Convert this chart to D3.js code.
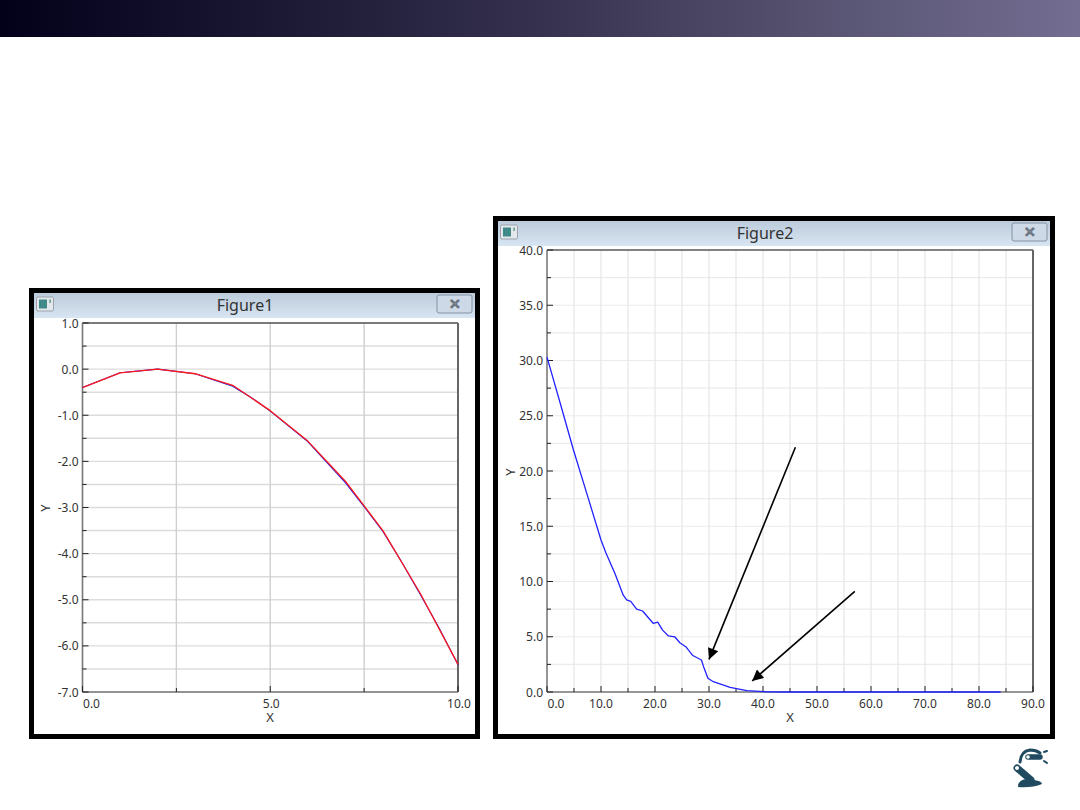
<!DOCTYPE html>
<html><head><meta charset="utf-8">
<script src="https://cdn.jsdelivr.net/npm/d3@7"></script>
<style>html,body{margin:0;padding:0;background:#fff}svg{display:block}text{font-family:"Noto Sans","Open Sans",sans-serif}</style>
</head><body><div id="chart"></div>
<script>
// ---- data ----
const fig1Title = "Figure1";
const fig2Title = "Figure2";
const fig1TrueX = [0,1,2,3,4,4.5,5,6,7,7.5,8,8.5,9,9.5,10];
const fig1TrueY = [-0.4,-0.08,0,-0.1,-0.37,-0.62,-0.91,-1.57,-2.46,-2.98,-3.52,-4.18,-4.89,-5.62,-6.41];
const fig1SampleX = [0,1,2,3,4,5,6,7,8,9,10];
const fig1SampleY = [-0.4,-0.08,0,-0.1,-0.35,-0.9,-1.56,-2.43,-3.5,-4.87,-6.4];
const fig1XTicks = [0,5,10];
const fig1XMinor = [2.5,7.5];
const fig1YTicks = [1,0,-1,-2,-3,-4,-5,-6,-7];
const fig1YMinor = [0.5,-0.5,-1.5,-2.5,-3.5,-4.5,-5.5,-6.5];
const fig2X = [0,2.7,4.9,7.35,10,10.9,12.6,14.1,14.75,15.5,16.6,17.7,19.7,20.5,21.4,22.5,23.7,24.6,25.7,27,28.6,29.1,29.8,30.8,33.9,37,40.7,45,60,84];
const fig2Y = [30.3,25.7,21.9,18,13.75,12.6,10.7,8.78,8.33,8.2,7.5,7.33,6.2,6.33,5.6,5.07,4.98,4.46,4.1,3.3,2.9,2.14,1.24,0.93,0.42,0.12,0.02,0,0,0];
const fig2XTicks = [0,10,20,30,40,50,60,70,80,90];
const fig2XMinor = [5,15,25,35,45,55,65,75,85];
const fig2YTicks = [40,35,30,25,20,15,10,5,0];
const fig2YMinor = [37.5,32.5,27.5,22.5,17.5,12.5,7.5,2.5];
const arrowFromX = [46,57];
const arrowFromY = [22.15,9.1];
const arrowToX = [30,38];
const arrowToY = [2.95,1.0];

const svg = d3.select("#chart").append("svg").attr("width",1080).attr("height",810);
const defs = svg.append("defs");

// banner
const bg = defs.append("linearGradient").attr("id","banner");
[[0,"#03001a"],[0.25,"#1a1833"],[0.5,"#35314f"],[0.75,"#565270"],[1,"#736e92"]].forEach(s=>bg.append("stop").attr("offset",s[0]).attr("stop-color",s[1]));
svg.append("rect").attr("width",1080).attr("height",37).attr("fill","url(#banner)");

const tg = defs.append("linearGradient").attr("id","titlebar").attr("x1",0).attr("y1",0).attr("x2",0).attr("y2",1);
tg.append("stop").attr("offset",0).attr("stop-color","#bccbdb");
tg.append("stop").attr("offset",1).attr("stop-color","#d8e5f2");

const mk = defs.append("marker").attr("id","ah").attr("viewBox","0 0 10 10").attr("refX",10).attr("refY",5)
  .attr("markerUnits","userSpaceOnUse").attr("markerWidth",14).attr("markerHeight",11).attr("orient","auto");
mk.append("path").attr("d","M0,0L10,5L0,10Z").attr("fill","#000");

function figure(o){
  const g = svg.append("g");
  const [fx,fy,fw,fh] = o.frame;
  g.append("rect").attr("x",fx).attr("y",fy).attr("width",fw).attr("height",fh).attr("fill","#000");
  g.append("rect").attr("x",fx+5).attr("y",fy+5).attr("width",fw-10).attr("height",fh-10).attr("fill","#fff");
  g.append("rect").attr("x",fx+5).attr("y",fy+5).attr("width",fw-10).attr("height",25).attr("fill","url(#titlebar)");
  // window icon
  g.append("rect").attr("x",fx+7.5).attr("y",fy+9).attr("width",17).attr("height",14).attr("rx",1.5).attr("fill","#e4e8ec").attr("stroke","#9aa3ad");
  g.append("rect").attr("x",fx+10).attr("y",fy+11.5).attr("width",8).attr("height",9).attr("fill","#3f8a88");
  g.append("rect").attr("x",fx+20.5).attr("y",fy+11.5).attr("width",1.2).attr("height",3.5).attr("fill","#3a8a6a");
  // close button
  const bx = fx+fw-43, by = fy+7;
  g.append("rect").attr("x",bx).attr("y",by).attr("width",35).attr("height",18).attr("rx",2).attr("fill","#cdd9e6").attr("stroke","#8492a3");
  g.append("text").attr("x",bx+17.5).attr("y",by+13.5).attr("text-anchor","middle").attr("font-size",14).attr("font-weight",700)
    .attr("fill","#fff").attr("stroke","#6b7480").attr("stroke-width",0.7).text("\u2715");
  g.append("text").attr("x",o.titleX).attr("y",fy+23).attr("text-anchor","middle").attr("font-size",16).attr("fill","#333").text(o.title);

  const x = d3.scaleLinear().domain(o.xDomain).range(o.xRange);
  const y = d3.scaleLinear().domain(o.yDomain).range(o.yRange);
  const [x0,x1] = o.xRange, [y0,y1] = o.yRange;

  // grid
  const grid = g.append("g").attr("stroke",o.gridColor).attr("stroke-width",o.gridWidth);
  grid.selectAll(".h").data(o.yTicks.concat(o.yMinor)).join("line").attr("x1",x0).attr("x2",x1).attr("y1",d=>y(d)).attr("y2",d=>y(d));
  grid.selectAll(".v").data(o.xTicks.concat(o.xMinor)).join("line").attr("y1",y0).attr("y2",y1).attr("x1",d=>x(d)).attr("x2",d=>x(d)).attr("stroke",o.gridColorV);

  // frame
  g.append("path").attr("d",`M${x0},${y1}H${x1}`).attr("stroke","#111").attr("stroke-width",1.2).attr("fill","none");
  g.append("path").attr("d",`M${x1},${y1}V${y0}`).attr("stroke","#666").attr("stroke-width",2).attr("fill","none");
  g.append("path").attr("d",`M${x0},${y1}V${y0}`).attr("stroke","#777").attr("stroke-width",1.5).attr("fill","none");
  g.append("path").attr("d",`M${x0},${y0}H${x1}`).attr("stroke","#777").attr("stroke-width",1.5).attr("fill","none");

  // ticks
  const t = g.append("g").attr("stroke","#222").attr("stroke-width",1);
  t.selectAll(".a").data(o.yTicks).join("line").attr("x1",x0).attr("x2",x0+6).attr("y1",d=>y(d)).attr("y2",d=>y(d));
  t.selectAll(".b").data(o.yMinor).join("line").attr("x1",x0).attr("x2",x0+4).attr("y1",d=>y(d)).attr("y2",d=>y(d));
  t.selectAll(".c").data(o.xTicks).join("line").attr("y1",y0).attr("y2",y0-6).attr("x1",d=>x(d)).attr("x2",d=>x(d));
  t.selectAll(".d").data(o.xMinor).join("line").attr("y1",y0).attr("y2",y0-4).attr("x1",d=>x(d)).attr("x2",d=>x(d));

  // tick labels (plain hyphen for negatives, as in the reference)
  const fmt = v => d3.format(".1f")(v).replace("\u2212","-");
  g.selectAll(".yl").data(o.yTicks).join("text").attr("x",x0-4).attr("y",d=>y(d)+4.5)
    .attr("text-anchor","end").attr("font-size",12).attr("fill","#333").text(d=>fmt(d));
  g.selectAll(".xl").data(o.xTicks).join("text").attr("x",(d,i)=>x(d)+(i===0?o.firstXOffset:o.xOffset)).attr("y",y0+15.5)
    .attr("text-anchor","middle").attr("font-size",12).attr("fill","#333").text(d=>fmt(d));
  // axis titles
  g.append("text").attr("x",o.xLabel[0]).attr("y",o.xLabel[1]).attr("text-anchor","middle").attr("font-size",13).attr("fill","#333").text("X");
  g.append("text").attr("transform",`translate(${o.yLabel[0]},${o.yLabel[1]}) rotate(-90)`).attr("text-anchor","middle").attr("font-size",13).attr("fill","#333").text("Y");

  const line = d3.line().x(d=>x(d[0])).y(d=>y(d[1]));
  o.series.forEach(s=>{
    g.append("path").datum(d3.zip(s.x,s.y)).attr("d",line).attr("fill","none").attr("stroke",s.color).attr("stroke-width",s.width).attr("stroke-linejoin","round");
  });
  return {x,y};
}

figure({frame:[29,288,451,451],title:fig1Title,titleX:245,
  xDomain:[0,10],xRange:[82.5,458],yDomain:[-7,1],yRange:[692,323],
  xTicks:fig1XTicks,xMinor:fig1XMinor,yTicks:fig1YTicks,yMinor:fig1YMinor,
  gridColor:"#dcdcdc",gridColorV:"#cfcfcf",gridWidth:1.4,firstXOffset:9,xOffset:1,
  xLabel:[270,722],yLabel:[50,508],
  series:[{x:fig1TrueX,y:fig1TrueY,color:"#1a1aee",width:1.1},{x:fig1SampleX,y:fig1SampleY,color:"#ff1a1a",width:1.3}]});

const f2 = figure({frame:[493,216,562,523],title:fig2Title,titleX:765,
  xDomain:[0,90],xRange:[547,1033],yDomain:[0,40],yRange:[692,250],
  xTicks:fig2XTicks,xMinor:fig2XMinor,yTicks:fig2YTicks,yMinor:fig2YMinor,
  gridColor:"#ebebeb",gridColorV:"#e6e6e6",gridWidth:1.2,firstXOffset:9,xOffset:0,
  xLabel:[790,722],yLabel:[515,472],
  series:[{x:fig2X,y:fig2Y,color:"#2222ff",width:1.3}]});

// annotation arrows
svg.append("g").selectAll("line").data(arrowFromX).join("line")
  .attr("x1",d=>f2.x(d)).attr("y1",(d,i)=>f2.y(arrowFromY[i]))
  .attr("x2",(d,i)=>f2.x(arrowToX[i])).attr("y2",(d,i)=>f2.y(arrowToY[i]))
  .attr("stroke","#000").attr("stroke-width",1.6).attr("marker-end","url(#ah)");

// robot-arm logo
const logo = svg.append("g").attr("transform","translate(990,735)").attr("fill","none").attr("stroke","#1f4a60").attr("stroke-linecap","round");
logo.append("path").attr("d","M28,52 Q28,44 38,44 L44,45 Q52,46 52,49 Q42,53 28,52 Z").attr("fill","#1f4a60").attr("stroke","none");
logo.append("path").attr("d","M27,33 L41,45").attr("stroke-width",7);
logo.append("circle").attr("cx",27).attr("cy",33).attr("r",2).attr("fill","#fff").attr("stroke","none");
logo.append("path").attr("d","M30,27 Q31,16 40,15 Q46,15 50,18").attr("stroke-width",3);
logo.append("path").attr("d","M38,22 L50,22").attr("stroke-width",5.5);
logo.append("circle").attr("cx",38).attr("cy",22).attr("r",1.8).attr("fill","#fff").attr("stroke","none");
logo.append("path").attr("d","M54,17 L57,16 M54,26 L57,28").attr("stroke-width",2);
</script></body></html>
